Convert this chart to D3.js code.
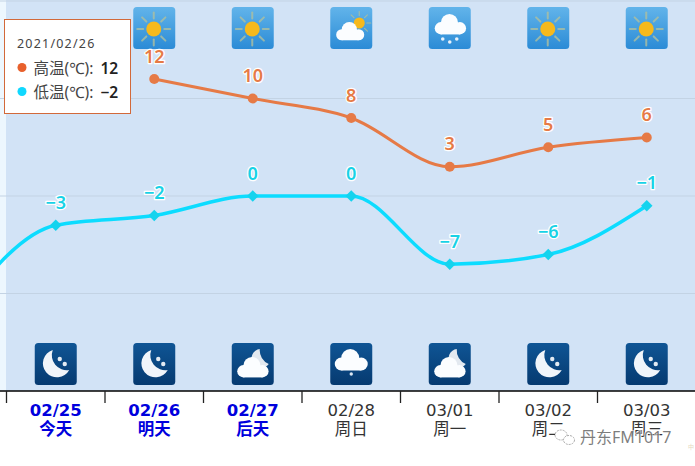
<!DOCTYPE html>
<html>
<head>
<meta charset="utf-8">
<script src="https://cdn.jsdelivr.net/npm/d3@7"></script>
<style>
html, body { margin: 0; padding: 0; background: #fff; overflow: hidden; }
svg { display: block; }
</style>
</head>
<body>
<svg id="chart" width="695" height="466"></svg>
<script>
// データ
const dates = ["02/24", "02/25", "02/26", "02/27", "02/28", "03/01", "03/02", "03/03"];
const weeks = ["", "今天", "明天", "后天", "周日", "周一", "周二", "周三"];
const highs = [null, null, 12, 10, 8, 3, 5, 6];
const lows = [-12, -3, -2, 0, 0, -7, -6, -1];
const dayIcons = [null, null, "sun", "sun", "partly", "snow", "sun", "sun"];
const nightIcons = [null, "moon", "moon", "mooncloud", "rain", "mooncloud", "moon", "moon"];
const gridTicks = [-10, 0, 10, 20];
const tipDate = "2021/02/26";
const tipIndex = 2;

const svg = d3.select("#chart"),
      width = 695,
      plotBottom = 391;

const orange = "#e67a46", cyan = "#0cdcff", labelCyan = "#18d2e6";
const bodyFont = "'DejaVu Sans','Noto Sans CJK SC',sans-serif";
const labelFont = "'Noto Sans','Noto Sans CJK SC',sans-serif";

const xScale = d3.scaleBand().domain(dates).range([-92, 696]);
const xMid = d => xScale(d) + xScale.bandwidth() / 2;
const yScale = d3.scaleLinear().domain([-20, 20]).range([plotBottom, 1]);

// グラデーション
const defs = svg.append("defs");
function addGradient(id, c1, c2) {
    const g = defs.append("linearGradient").attr("id", id).attr("x1", 0).attr("x2", 0).attr("y1", 0).attr("y2", 1);
    g.append("stop").attr("offset", "0%").attr("stop-color", c1);
    g.append("stop").attr("offset", "100%").attr("stop-color", c2);
}
addGradient("dayBg", "#62b4ea", "#2b8bd6");
addGradient("nightBg", "#0f5595", "#063a70");

// 背景
svg.append("rect").attr("x", 0).attr("y", 0).attr("width", width).attr("height", plotBottom).attr("fill", "#edf7fe");
svg.append("rect").attr("x", 6).attr("y", 0).attr("width", width - 6).attr("height", plotBottom).attr("fill", "#d2e3f6");

// グリッド線
svg.append("g").selectAll("line").data(gridTicks).join("line")
    .attr("x1", 0).attr("x2", width)
    .attr("y1", d => yScale(d)).attr("y2", d => yScale(d))
    .attr("stroke", "#c3d3e4").attr("stroke-width", 1);

// アイコン
function drawCloud(g, dx, dy, k) {
    const c = g.append("g").attr("transform", `translate(${dx},${dy}) scale(${k})`).attr("fill", "#fbfdff");
    c.append("circle").attr("cx", 7).attr("cy", 15).attr("r", 6.5);
    c.append("circle").attr("cx", 16).attr("cy", 9).attr("r", 9);
    c.append("circle").attr("cx", 27).attr("cy", 15).attr("r", 6.5);
    c.append("rect").attr("x", 7).attr("y", 12).attr("width", 20).attr("height", 9.5);
}
function drawSun(g, cx, cy, r, rayIn, rayOut, w) {
    d3.range(8).forEach(i => {
        const a = i * Math.PI / 4;
        g.append("line")
            .attr("x1", cx + rayIn * Math.cos(a)).attr("y1", cy + rayIn * Math.sin(a))
            .attr("x2", cx + rayOut * Math.cos(a)).attr("y2", cy + rayOut * Math.sin(a))
            .attr("stroke", "#aebf9f").attr("stroke-opacity", 0.8).attr("stroke-width", w).attr("stroke-linecap", "round");
    });
    g.append("circle").attr("cx", cx).attr("cy", cy).attr("r", r).attr("fill", "#f6b91c");
}
const iconDraw = {
    sun: g => drawSun(g, 20.5, 22, 7.5, 10.5, 16.5, 2),
    partly: g => { drawSun(g, 29, 16, 5.5, 7.5, 11.5, 1.2); drawCloud(g, 5.5, 15, 0.85); },
    snow: g => {
        drawCloud(g, 5.5, 7, 0.95);
        [[14, 32], [21, 35], [28, 32]].forEach(p => {
            g.append("circle").attr("cx", p[0]).attr("cy", p[1]).attr("r", 1.8).attr("fill", "#e8f2fb");
        });
    },
    moon: g => {
        g.append("path").attr("d", "M18,7 A14,14 0 1 0 34.5,27 A15,15 0 0 1 18,7 Z").attr("fill", "#f1f5fa");
        [[25, 16], [30, 21]].forEach(p => {
            g.append("circle").attr("cx", p[0]).attr("cy", p[1]).attr("r", 2.2).attr("fill", "#e3ebf3");
        });
    },
    mooncloud: g => {
        g.append("path").attr("d", "M28,6 A9.5,9.5 0 1 0 37,21 A15,15 0 0 1 28,6 Z").attr("fill", "#e3e9f0");
        drawCloud(g, 5, 14, 0.95);
    },
    rain: g => {
        drawCloud(g, 4, 6, 1);
        g.append("circle").attr("cx", 21).attr("cy", 31).attr("r", 1.7).attr("fill", "#dbe7f2");
    }
};
function placeIcons(list, top, bg) {
    dates.forEach((d, i) => {
        if (!list[i]) return;
        const g = svg.append("g").attr("transform", `translate(${xMid(d) - 21},${top})`);
        g.append("rect").attr("width", 42).attr("height", 42).attr("rx", 3.5).attr("fill", `url(#${bg})`);
        iconDraw[list[i]](g);
    });
}
placeIcons(dayIcons, 7, "dayBg");
placeIcons(nightIcons, 343, "nightBg");

// 折れ線
const line = d3.line()
    .defined(d => d.v !== null)
    .x(d => xMid(d.date))
    .y(d => yScale(d.v))
    .curve(d3.curveMonotoneX);
const highData = dates.map((d, i) => ({ date: d, v: highs[i] }));
const lowData = dates.map((d, i) => ({ date: d, v: lows[i] }));

svg.append("path").datum(highData).attr("fill", "none").attr("stroke", orange).attr("stroke-width", 3).attr("d", line);
svg.append("path").datum(lowData).attr("fill", "none").attr("stroke", cyan).attr("stroke-width", 3.5).attr("d", line);

// マーカー
svg.append("g").selectAll("circle").data(highData.filter(d => d.v !== null)).join("circle")
    .attr("cx", d => xMid(d.date)).attr("cy", d => yScale(d.v)).attr("r", 5).attr("fill", orange);
const diamond = d3.symbol().type(d3.symbolDiamond2).size(85);
svg.append("g").selectAll("path").data(lowData.slice(1)).join("path")
    .attr("transform", d => `translate(${xMid(d.date)},${yScale(d.v)})`)
    .attr("d", diamond).attr("fill", "#14d3ee");

// 数値ラベル
const fmt = d3.format("d");
function addLabels(rows, color) {
    svg.append("g").selectAll("text").data(rows).join("text")
        .attr("x", d => xMid(d.date)).attr("y", d => yScale(d.v) - 16.5)
        .attr("text-anchor", "middle")
        .attr("font-family", labelFont).attr("font-size", 18).attr("font-weight", 600)
        .attr("fill", color).attr("stroke", "#fff").attr("stroke-width", 2.5)
        .attr("paint-order", "stroke").attr("stroke-linejoin", "round")
        .text(d => fmt(d.v));
}
addLabels(highData.filter(d => d.v !== null), orange);
addLabels(lowData.slice(1), labelCyan);

// X軸
const xAxis = svg.append("g").attr("transform", `translate(0,${plotBottom})`)
    .call(d3.axisBottom(xScale).tickSize(0).tickPadding(0));
xAxis.select(".domain").attr("stroke", "#000").attr("stroke-width", 1.5).attr("d", `M0,0H${width}`);
xAxis.selectAll(".tick text").remove();
xAxis.selectAll(".tick").filter(d => d !== dates[0]).each(function(d) {
    const i = dates.indexOf(d);
    const soon = i <= 3;
    const t = d3.select(this).append("text")
        .attr("text-anchor", "middle")
        .attr("font-family", bodyFont).attr("font-size", 16.5)
        .attr("font-weight", soon ? "bold" : "normal")
        .attr("fill", soon ? "#0000dd" : "#333");
    t.append("tspan").attr("x", 0).attr("y", 25).text(d);
    t.append("tspan").attr("x", 0).attr("y", 44).text(weeks[i]);
});
svg.append("g").selectAll("line").data(dates.slice(1)).join("line")
    .attr("x1", d => xScale(d)).attr("x2", d => xScale(d))
    .attr("y1", plotBottom).attr("y2", plotBottom + 12)
    .attr("stroke", "#222").attr("stroke-width", 1.3);

// ツールチップ
const tip = svg.append("g").attr("transform", "translate(4.5,19.5)");
tip.append("rect").attr("width", 126).attr("height", 94).attr("fill", "#fff").attr("stroke", "#d2693a");
tip.append("text").attr("x", 12.5).attr("y", 28)
    .attr("font-family", labelFont).attr("font-size", 12.5).attr("letter-spacing", 1.2).attr("fill", "#444")
    .text(tipDate);
const tipRows = [
    { name: "高温(℃): ", v: highs[tipIndex], c: "#e8602c" },
    { name: "低温(℃): ", v: lows[tipIndex], c: "#10d8ff" }
];
tipRows.forEach((r, i) => {
    const cy = 48 + i * 24;
    tip.append("circle").attr("cx", 17.5).attr("cy", cy).attr("r", 4.5).attr("fill", r.c);
    const t = tip.append("text").attr("x", 29).attr("y", cy + 6)
        .attr("font-family", labelFont).attr("font-size", 15.5).attr("fill", "#444");
    t.append("tspan").text(r.name);
    t.append("tspan").attr("font-weight", 600).attr("fill", "#222").attr("dx", 3).text(fmt(r.v));
});

// 透かし
const wm = svg.append("g");
wm.append("ellipse").attr("cx", 561).attr("cy", 435).attr("rx", 6).attr("ry", 5)
    .attr("fill", "#fff").attr("stroke", "#aaa").attr("stroke-dasharray", "2 1");
wm.append("ellipse").attr("cx", 569).attr("cy", 440).attr("rx", 5.5).attr("ry", 4.5)
    .attr("fill", "#fff").attr("stroke", "#aaa").attr("stroke-dasharray", "2 1");
wm.append("text").attr("x", 580).attr("y", 443)
    .attr("font-family", labelFont).attr("font-size", 16)
    .attr("fill", "#666").attr("fill-opacity", 0.85)
    .attr("stroke", "#fff").attr("stroke-width", 2).attr("stroke-opacity", 0.6).attr("paint-order", "stroke")
    .text("丹东FM1017");
wm.append("text").attr("x", 688).attr("y", 449)
    .attr("font-family", labelFont).attr("font-size", 6).attr("fill", "#e6d9c0")
    .text("中");
</script>
</body>
</html>
